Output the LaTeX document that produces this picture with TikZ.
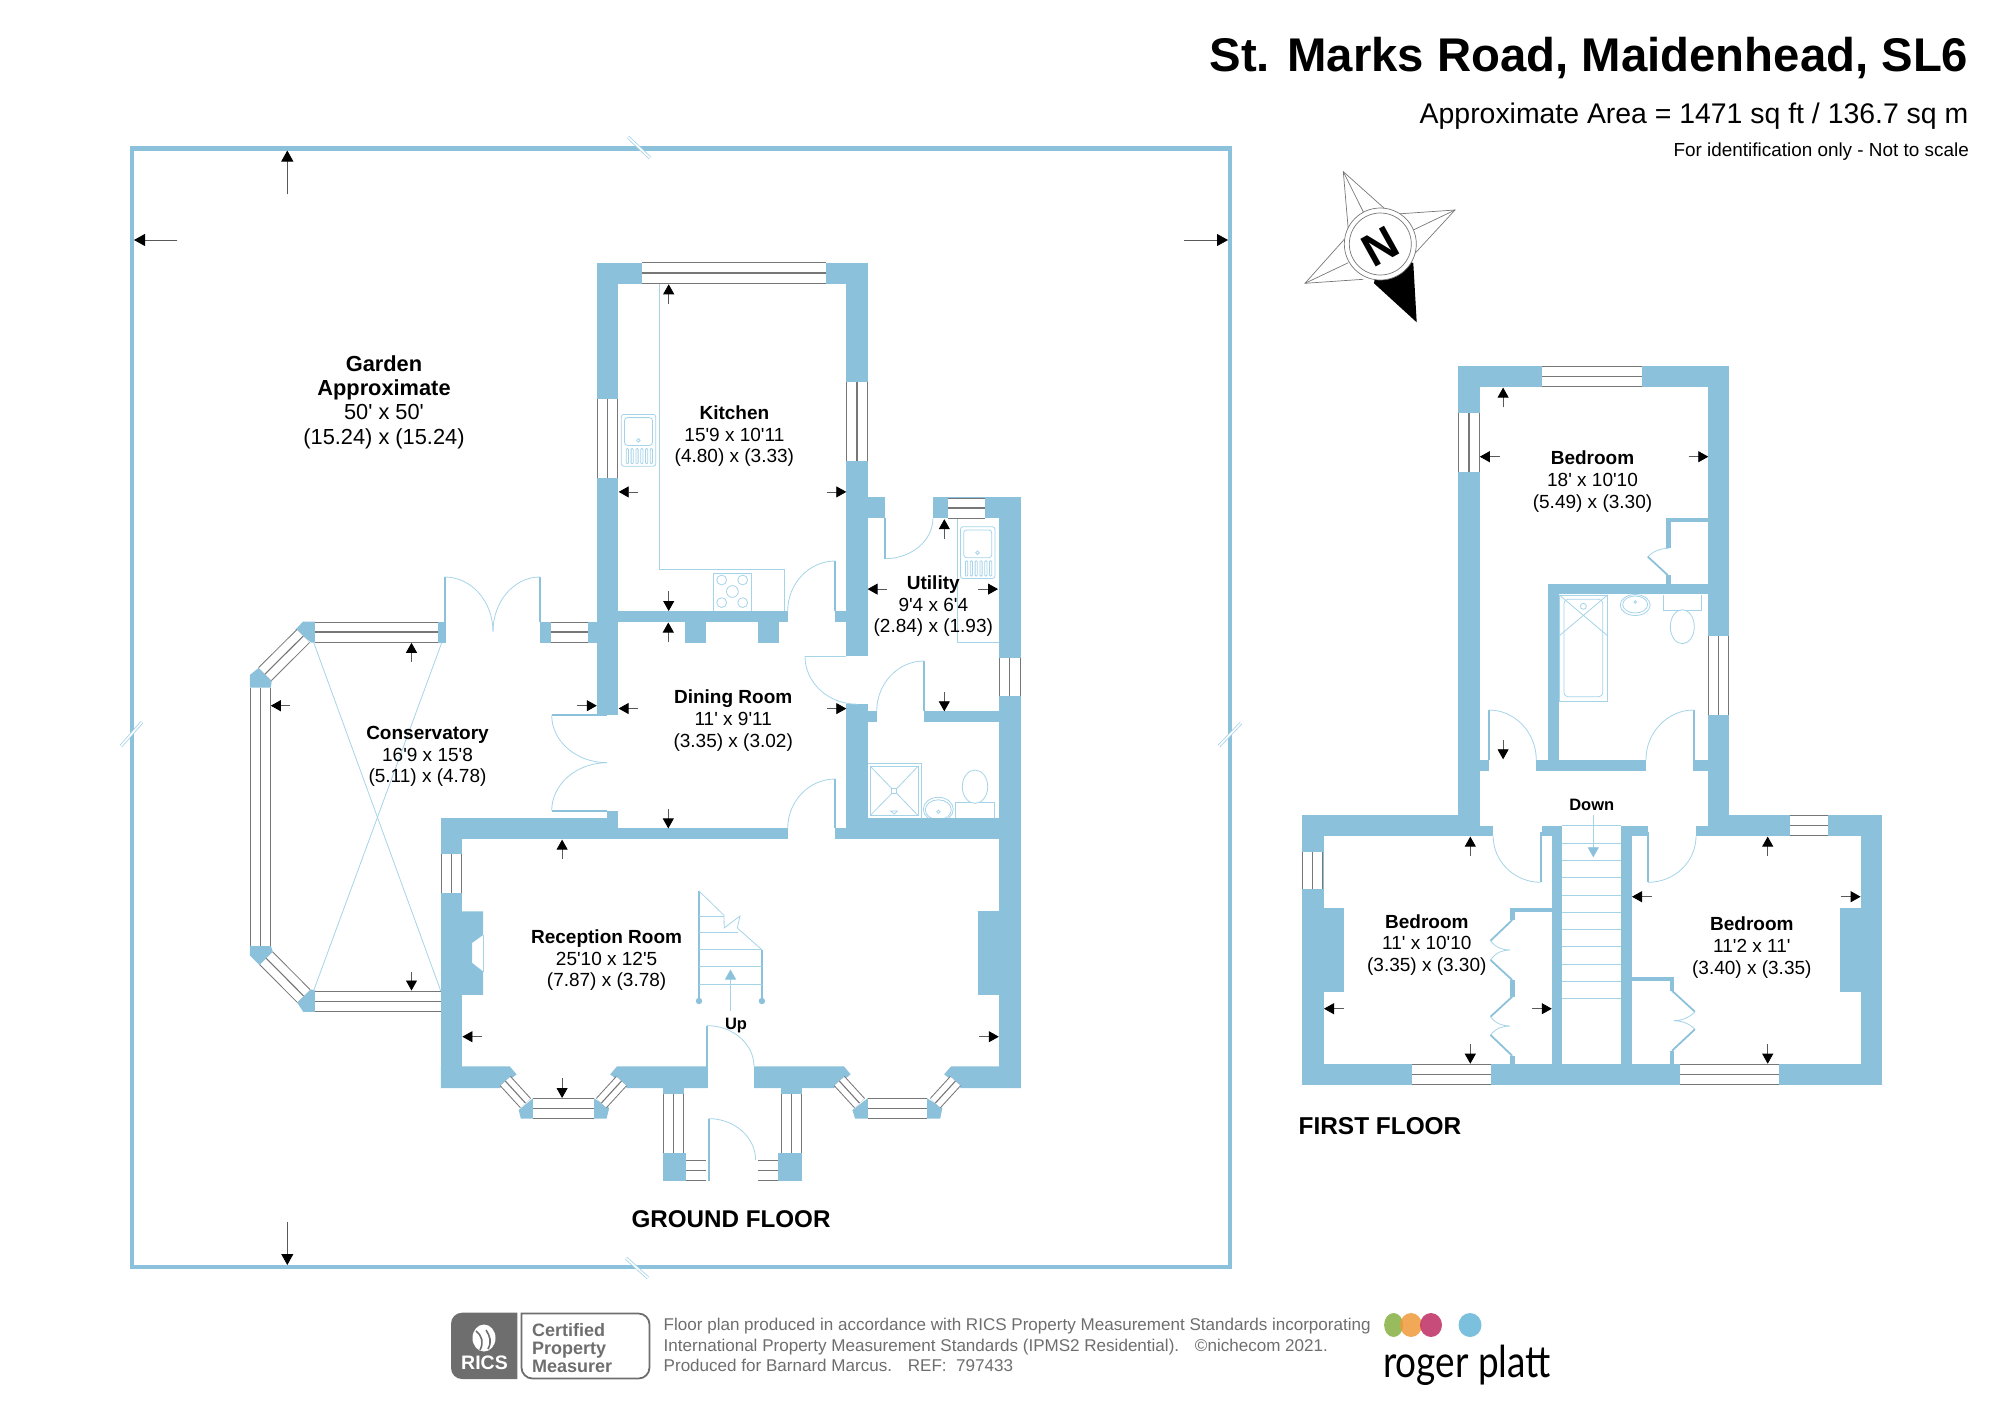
\documentclass[tikz,border=0pt]{standalone}
\usepackage{fontspec}
\usepackage{tikz}
\usetikzlibrary{arrows.meta,calc}
\setmainfont{Liberation Sans}[Ligatures=TeXOff]
\newfontfamily\logofont{Lato}[Ligatures=TeXOff]
\definecolor{wallblue}{HTML}{8CC1DC}
\definecolor{fitblue}{HTML}{A5D3E8}
\definecolor{wingrey}{HTML}{777777}
\definecolor{footgrey}{HTML}{6E6E6E}
\definecolor{logogreen}{HTML}{8DB54B}
\definecolor{logoorange}{HTML}{EE9A3A}
\definecolor{logored}{HTML}{C2386A}
\definecolor{logoblue}{HTML}{7BC0DC}
\tikzset{
    wall/.style = {fill=wallblue},
    fit/.style = {draw=fitblue, line width=.8pt},
    leaf/.style = {draw=wallblue, line width=1.8pt},
    pane/.style = {draw=wingrey, line width=1pt, double=white, double distance=#1,
        postaction={draw=wingrey, double=none, line width=1.1pt}},
    dimarrow/.style = {-{Triangle[length=10pt,width=11pt,color=black]}, draw=black!65, line width=.8pt},
    gardenarrow/.style = {-{Triangle[length=11pt,width=12pt,color=black]}, draw=black!65, line width=.8pt},
    stairarrow/.style = {-{Triangle[length=10pt,width=11pt,color=wallblue]}, fit},
    breakmark/.style = {draw=fitblue, line width=.8pt, double=white, double distance=1.6pt},
    room/.style = {align=center, inner sep=0pt, font=\fontsize{19}{21.7}\selectfont},
    sinkunit/.pic = {
        \draw[fit, rounded corners=2.5pt] (0,0) rectangle (34.4,51.8);
        \draw[fit, rounded corners=3pt] (3.2,3.2) rectangle (31.2,31);
        \draw[fit] (17,26) circle[radius=1.8pt];
        \draw[fit, rounded corners=1pt] (5,34) rectangle (7.2,49.4);
        \draw[fit, rounded corners=1pt] (9.8,34) rectangle (12,49.4);
        \draw[fit, rounded corners=1pt] (14.6,34) rectangle (16.8,49.4);
        \draw[fit, rounded corners=1pt] (19.4,34) rectangle (21.6,49.4);
        \draw[fit, rounded corners=1pt] (24.2,34) rectangle (26.4,49.4);
        \draw[fit, rounded corners=1pt] (29,34) rectangle (31.2,49.4);
    }
}
% quarter swing of a door, leaf upright or level
\newcommand{\swingup}[4]{\draw[fit] (#1,#2) .. controls ($(#1,#2)!.55!(#3,#2)$) and ($(#3,#4)!.55!(#3,#2)$) .. (#3,#4);}
\newcommand{\swinglevel}[4]{\draw[fit] (#1,#2) .. controls ($(#1,#2)!.55!(#1,#4)$) and ($(#3,#4)!.55!(#1,#4)$) .. (#3,#4);}
\begin{document}
\begin{tikzpicture}[x=1pt,y=-1pt]
    \useasboundingbox (0,0) rectangle (2000,1414);

    % garden
    \draw[wallblue, line width=4.4pt] (132,148.5) rectangle (1230,1267);
    \draw[breakmark] (628,137) -- (650,158);
    \draw[breakmark] (626,1258) -- (648,1278);
    \draw[breakmark] (121,746) -- (142,722);
    \draw[breakmark] (1219,746) -- (1241,723);
    \draw[gardenarrow] (287.3,194.3) -- (287.3,150.5);
    \draw[gardenarrow] (287.3,1222) -- (287.3,1265);
    \draw[gardenarrow] (177.3,240) -- (134,240);
    \draw[gardenarrow] (1183.6,240) -- (1228,240);

    % fittings of the ground floor
    \draw[fit] (659.2,283.5) -- (659.2,569.4) -- (784.2,569.4) -- (784.2,611);
    \draw[fit] (713,611) -- (713,573.3) -- (751.4,573.3) -- (751.4,611);
    \draw[fit] (721.7,580) circle[radius=4.9pt];
    \draw[fit] (742.7,580) circle[radius=4.9pt];
    \draw[fit] (732.4,591.5) circle[radius=5.9pt];
    \draw[fit] (721.7,602.6) circle[radius=4.9pt];
    \draw[fit] (742.7,602.6) circle[radius=4.9pt];
    \pic at (621.3,414.4) {sinkunit};
    \pic at (960.5,526.7) {sinkunit};
    \draw[fit] (957.4,518.4) -- (957.4,642.5) -- (998.9,642.5);
    \draw[fit] (867.3,763.3) rectangle (921.7,818.3);
    \draw[fit] (870,766) rectangle (918.3,815.7);
    \draw[fit] (870,766) -- (891.8,788.5);
    \draw[fit] (918.3,766) -- (896.8,788.5);
    \draw[fit] (870,815.7) -- (891.8,793.5);
    \draw[fit] (918.3,815.7) -- (896.8,793.5);
    \draw[fit] (891.8,788.5) rectangle (896.8,793.5);
    \draw[fit] (890.7,811) -- (897.3,811) -- (894.3,814) -- cycle;
    \draw[fit] (938.3,809.3) ellipse[x radius=15pt, y radius=12pt];
    \draw[fit] (938.3,809.8) ellipse[x radius=13pt, y radius=10pt];
    \draw[fit] (938.3,811.7) circle[radius=1.7pt];
    \draw[fit] (955.7,818) -- (955.7,802.3) -- (994,802.3) -- (994,818);
    \draw[fit, fill=white] (975,786.7) ellipse[x radius=12.7pt, y radius=16.7pt];

    % stairs up
    \draw[leaf] (699,891) -- (699,1001);
    \draw[leaf] (761.9,949.7) -- (761.9,1001);
    \fill[wallblue] (699,1001) circle[radius=3.2pt];
    \fill[wallblue] (761.9,1001) circle[radius=3.2pt];
    \draw[fit] (699,891) -- (724,915.3) -- (724.2,928) -- (740,916) -- (737.3,928) -- (761.9,949.7);
    \draw[fit] (699,916.1) -- (724,916.1);
    \draw[fit] (699,932) -- (738,932);
    \draw[fit] (699,949.7) -- (761.9,949.7);
    \draw[fit] (699,966.7) -- (761.9,966.7);
    \draw[fit] (699,984.1) -- (761.9,984.1);
    \draw[stairarrow] (730.5,1011) -- (730.5,969.5);

    % walls of the ground floor
    \fill[wall] (596.8,262.5) rectangle (867.6,283.5);
    \fill[wall] (596.8,262.5) rectangle (618.1,714.5);
    \fill[wall] (846.3,262.5) rectangle (867.6,656.4);
    \fill[wall] (618.1,611) rectangle (787.7,622);
    \fill[wall] (685,622) rectangle (706.3,642.5);
    \fill[wall] (758,622) rectangle (779.4,642.5);
    \fill[wall] (835.2,611) rectangle (846.3,622);
    \fill[wall] (867.6,497.4) rectangle (885,518.4);
    \fill[wall] (932.9,497.4) rectangle (1020.8,518.4);
    \fill[wall] (998.9,497.4) rectangle (1020.8,1088);
    \fill[wall] (846.3,704.2) rectangle (867.6,839);
    \fill[wall] (867.6,711.3) rectangle (876.7,721.6);
    \fill[wall] (923.8,711.3) rectangle (998.9,721.6);
    \fill[wall] (846.3,818) rectangle (998.9,839);
    \fill[wall] (835.2,828.4) rectangle (846.3,839);
    \fill[wall] (440.8,818.4) rectangle (618.1,839);
    \fill[wall] (607,810.6) rectangle (618.1,839);
    \fill[wall] (618.1,828.4) rectangle (787.7,839);
    \fill[wall] (440.8,818.4) rectangle (462.2,1088);
    \fill[wall] (462.2,911.4) -- (483.1,911.4) -- (483.1,935) -- (472,943) -- (472,962.8) -- (483.1,971.5) -- (483.1,994.8) -- (462.2,994.8) -- cycle;
    \draw[fit] (483.1,935) -- (483.1,971.5);
    \fill[wall] (977.9,911.4) rectangle (998.9,994.8);
    \fill[wall] (440.8,1088) -- (499.9,1088) -- (516.6,1074.3) -- (509.8,1066.4) -- (440.8,1066.4) -- cycle;
    \fill[wall] (707,1088) -- (627,1088) -- (610.2,1074.3) -- (617,1066.4) -- (707,1066.4) -- cycle;
    \fill[wall] (754,1066.4) -- (844,1066.4) -- (850.6,1074.3) -- (834,1088) -- (754,1088) -- cycle;
    \fill[wall] (951,1066.4) -- (944.2,1074.3) -- (961,1088) -- (1020.8,1088) -- (1020.8,1066.4) -- cycle;
    \fill[wall] (533.3,1098) -- (518.7,1110) -- (520.8,1118.6) -- (533.3,1118.6) -- cycle;
    \fill[wall] (593.5,1098) -- (609.2,1108) -- (606.6,1118.6) -- (593.5,1118.6) -- cycle;
    \fill[wall] (868,1098) -- (852.4,1110) -- (855,1118.6) -- (868,1118.6) -- cycle;
    \fill[wall] (926.7,1098) -- (942.4,1108) -- (940.2,1118.6) -- (926.7,1118.6) -- cycle;
    \fill[wall] (663,1088) rectangle (684,1094);
    \fill[wall] (780.7,1088) rectangle (801.7,1094);
    \fill[wall] (663,1153.4) rectangle (686,1181);
    \fill[wall] (777.6,1153.4) rectangle (801.7,1181);
    \fill[wall] (588.4,621.6) rectangle (596.8,642.5);
    \fill[wall] (539.8,621.6) rectangle (550.5,642.5);
    \fill[wall] (437.6,621.6) rectangle (445.5,642.5);
    \fill[wall] (315.3,621.5) -- (303.2,621.5) -- (295.4,629.4) -- (311,642.5) -- (315.3,642.5) -- cycle;
    \fill[wall] (258.8,667.8) -- (249.9,674.9) -- (249.9,687.6) -- (270.8,687.6) -- (271.8,680.8) -- cycle;
    \fill[wall] (249.9,945.8) -- (270.8,945.8) -- (272.9,951.7) -- (259.8,965.5) -- (249.9,955.6) -- cycle;
    \fill[wall] (311,989.3) -- (315.3,990.5) -- (315.3,1011.8) -- (303.2,1011.8) -- (297,1002.3) -- cycle;

    % windows of the ground floor
    \draw[pane=19.2pt] (641.8,273) -- (826,273);
    \draw[pane=19.4pt] (607.4,399.4) -- (607.4,478.4);
    \draw[pane=19.4pt] (857,381.6) -- (857,461);
    \draw[pane=19pt] (947.5,508) -- (985.4,508);
    \draw[pane=19.4pt] (1009.8,658) -- (1009.8,696);
    \draw[pane=19pt] (550.5,632) -- (588.4,632);
    \draw[pane=19pt] (315.3,632) -- (437.6,632);
    \draw[pane=17pt] (303.2,636.1) -- (265,674.1);
    \draw[pane=19pt] (260.4,687.6) -- (260.4,945.8);
    \draw[pane=17pt] (266.3,958.4) -- (303.7,996);
    \draw[pane=19pt] (315.3,1001.2) -- (440.8,1001.2);
    \draw[pane=19.4pt] (451.5,854) -- (451.5,892.8);
    \draw[pane=19pt] (533.3,1108.3) -- (593.5,1108.3);
    \draw[pane=12.6pt] (505.4,1081.1) -- (525.5,1103.1);
    \draw[pane=12.6pt] (621.4,1081.1) -- (601.3,1103.1);
    \draw[pane=19pt] (868,1108.3) -- (926.7,1108.3);
    \draw[pane=12.6pt] (839.4,1081.1) -- (859.5,1103.1);
    \draw[pane=12.6pt] (955.4,1081.1) -- (935.3,1103.1);
    \draw[pane=19pt] (673.5,1094) -- (673.5,1153.4);
    \draw[pane=19pt] (791.2,1094) -- (791.2,1153.4);
    \draw[pane=19pt] (686,1170.5) -- (706,1170.5);
    \draw[pane=19pt] (758,1170.5) -- (777.6,1170.5);

    % conservatory roof
    \draw[fit] (313.7,642.5) -- (440.8,991);
    \draw[fit] (441.8,642.5) -- (313.7,990.5);

    % doors of the ground floor
    \draw[leaf] (885,518.4) -- (885,558.7);
    \swingup{885}{558.7}{932.9}{518.4}
    \draw[leaf] (835.2,561) -- (835.2,611);
    \swingup{835.2}{561}{787.7}{611}
    \draw[fit] (805,656.4) -- (846.3,656.4);
    \swinglevel{805}{656.4}{857}{704.2}
    \draw[leaf] (923.8,661) -- (923.8,711.3);
    \swingup{923.8}{661}{876.7}{711.3}
    \draw[leaf] (835.2,779) -- (835.2,828.4);
    \swingup{835.2}{779}{787.7}{828.4}
    \draw[leaf] (551.7,715.3) -- (607,715.3);
    \swinglevel{551.7}{715.3}{607}{762.7}
    \draw[leaf] (551.7,810.6) -- (607,810.6);
    \swinglevel{551.7}{810.6}{607}{762.7}
    \draw[leaf] (444.9,577) -- (444.9,622);
    \swingup{444.9}{577}{493}{631.5}
    \draw[leaf] (539.8,577) -- (539.8,622);
    \swingup{539.8}{577}{493}{631.5}
    \draw[leaf] (707,1025.6) -- (707,1088);
    \swingup{707}{1025.6}{754}{1066.4}
    \draw[leaf] (708.6,1118.6) -- (708.6,1181);
    \swingup{708.6}{1118.6}{755.6}{1160}

    % dimension arrows of the ground floor
    \draw[dimarrow] (668.7,304) -- (668.7,284.3);
    \draw[dimarrow] (668.7,591) -- (668.7,611);
    \draw[dimarrow] (638.3,491.9) -- (618.7,491.9);
    \draw[dimarrow] (826.5,491.9) -- (846.3,491.9);
    \draw[dimarrow] (668.3,642.1) -- (668.3,622.5);
    \draw[dimarrow] (668.3,808.6) -- (668.3,828.4);
    \draw[dimarrow] (638,708.5) -- (618.6,708.5);
    \draw[dimarrow] (827.3,708.6) -- (846.3,708.6);
    \draw[dimarrow] (887,589.1) -- (867.6,589.1);
    \draw[dimarrow] (978.3,589.1) -- (998,589.1);
    \draw[dimarrow] (944.3,538.9) -- (944.3,519.2);
    \draw[dimarrow] (944.3,692) -- (944.3,711.3);
    \draw[dimarrow] (411.5,661.9) -- (411.5,642.8);
    \draw[dimarrow] (411.5,971.5) -- (411.5,990.5);
    \draw[dimarrow] (290,705.7) -- (270.8,705.7);
    \draw[dimarrow] (577.3,705.7) -- (596.8,705.7);
    \draw[dimarrow] (562.1,859.2) -- (562.1,839.6);
    \draw[dimarrow] (562.1,1078.2) -- (562.1,1098);
    \draw[dimarrow] (482.1,1036.7) -- (462.4,1036.7);
    \draw[dimarrow] (979,1036.7) -- (998.8,1036.7);

    % fittings of the first floor
    \draw[fit] (1559.3,595) rectangle (1607.5,701.3);
    \draw[fit, rounded corners=4pt] (1564,599.3) rectangle (1602.8,696.7);
    \draw[fit] (1583.4,606.3) circle[radius=3pt];
    \draw[fit] (1559.3,595) -- (1607.5,635.7);
    \draw[fit] (1607.5,595) -- (1559.3,635.7);
    \draw[fit] (1635.2,605) ellipse[x radius=15pt, y radius=10.5pt];
    \draw[fit] (1635.2,604.5) ellipse[x radius=12.5pt, y radius=8.5pt];
    \draw[fit] (1635.2,602) circle[radius=1.3pt];
    \draw[fit] (1662.9,595) -- (1662.9,610) -- (1701.6,610) -- (1701.6,595);
    \draw[fit, fill=white] (1682.3,626.7) ellipse[x radius=12pt, y radius=17pt];

    % stairs down
    \draw[fit] (1562.4,843) -- (1621,843);
    \draw[fit] (1562.4,860.3) -- (1621,860.3);
    \draw[fit] (1562.4,877.6) -- (1621,877.6);
    \draw[fit] (1562.4,894.9) -- (1621,894.9);
    \draw[fit] (1562.4,912.2) -- (1621,912.2);
    \draw[fit] (1562.4,929.5) -- (1621,929.5);
    \draw[fit] (1562.4,946.8) -- (1621,946.8);
    \draw[fit] (1562.4,964.1) -- (1621,964.1);
    \draw[fit] (1562.4,981.4) -- (1621,981.4);
    \draw[fit] (1562.4,998.7) -- (1621,998.7);
    \draw[fit] (1562.4,825.7) -- (1621,825.7);
    \draw[stairarrow] (1593.3,815) -- (1593.3,857.3);

    % walls of the first floor
    \fill[wall] (1458.4,366) rectangle (1729.3,387.3);
    \fill[wall] (1458.4,366) rectangle (1479.8,836.3);
    \fill[wall] (1708.3,366) rectangle (1729.3,836.3);
    \fill[wall] (1301.9,815) rectangle (1479.8,836.3);
    \fill[wall] (1479.8,825.7) rectangle (1493.2,836.3);
    \fill[wall] (1696,825.7) rectangle (1708.3,836.3);
    \fill[wall] (1708.3,815) rectangle (1881.9,836.3);
    \fill[wall] (1301.9,815) rectangle (1323.6,1085);
    \fill[wall] (1860.6,815) rectangle (1881.9,1085);
    \fill[wall] (1301.9,1063.7) rectangle (1881.9,1085);
    \fill[wall] (1323.6,908.3) rectangle (1344.2,991.7);
    \fill[wall] (1839.6,908.3) rectangle (1860.6,991.7);
    \fill[wall] (1541.5,825.7) rectangle (1562.4,836.3);
    \fill[wall] (1552.2,825.7) rectangle (1562.4,1063.7);
    \fill[wall] (1621,825.7) rectangle (1647.8,836.3);
    \fill[wall] (1621,825.7) rectangle (1631.6,1063.7);
    \fill[wall] (1548.2,584) rectangle (1708.3,594.3);
    \fill[wall] (1548.2,584) rectangle (1559.3,770);
    \fill[wall] (1536.3,760) rectangle (1645.9,770.7);
    \fill[wall] (1693.3,760) rectangle (1708.3,770.7);
    \fill[wall] (1479.8,760) rectangle (1488.9,770.7);
    \fill[wall] (1666.4,518.3) rectangle (1708.3,522.3);
    \fill[wall] (1666.4,518.3) rectangle (1670.8,548.3);
    \fill[wall] (1666.4,575) rectangle (1670.8,584);
    \fill[wall] (1510.2,908.3) rectangle (1552.2,912.3);
    \fill[wall] (1510.2,908.3) rectangle (1514.6,920);
    \fill[wall] (1510.2,980) rectangle (1514.6,996.7);
    \fill[wall] (1510.2,1055.7) rectangle (1514.6,1063.7);
    \fill[wall] (1631.6,977.3) rectangle (1673.6,981.3);
    \fill[wall] (1670.4,977.3) rectangle (1673.6,990.7);
    \fill[wall] (1670.4,1050.7) rectangle (1673.6,1063.7);

    % windows of the first floor
    \draw[pane=19.2pt] (1541.9,376.6) -- (1642.3,376.6);
    \draw[pane=19.2pt] (1469,413.3) -- (1469,471.7);
    \draw[pane=19.2pt] (1718.8,636) -- (1718.8,715);
    \draw[pane=19.4pt] (1312.7,851.7) -- (1312.7,889.3);
    \draw[pane=19.4pt] (1809,825.6) -- (1827.8,825.6);
    \draw[pane=19.4pt] (1790.2,825.6) -- (1809,825.6);
    \draw[pane=19.4pt] (1411.8,1074.3) -- (1490.9,1074.3);
    \draw[pane=19.4pt] (1679.5,1074.3) -- (1779.1,1074.3);

    % doors and wardrobes of the first floor
    \draw[leaf] (1488.9,710) -- (1488.9,760);
    \swingup{1488.9}{710}{1536.3}{760}
    \draw[leaf] (1693.7,710) -- (1693.7,760);
    \swingup{1693.7}{710}{1645.9}{760}
    \draw[leaf] (1540.7,831.7) -- (1540.7,882.3);
    \swingup{1540.7}{882.3}{1493.2}{836.3}
    \draw[leaf] (1648.2,831.7) -- (1648.2,882.3);
    \swingup{1648.2}{882.3}{1696}{836.3}
    \draw[fit] (1668.6,548.3) .. controls (1660,548.3) and (1652,552) .. (1647.8,556.7);
    \draw[leaf] (1647.8,556.7) -- (1667.6,575);
    \draw[leaf] (1512.2,920) -- (1490.5,940.7);
    \draw[fit] (1490.5,940.7) .. controls (1496,948) and (1503,950) .. (1510.2,950) .. controls (1503,950) and (1496,952) .. (1490.5,960);
    \draw[leaf] (1490.5,960) -- (1512.2,980);
    \draw[leaf] (1512.2,996.7) -- (1490.5,1016.7);
    \draw[fit] (1490.5,1016.7) .. controls (1496,1024) and (1503,1026) .. (1510.2,1026) .. controls (1503,1026) and (1496,1028) .. (1490.5,1035);
    \draw[leaf] (1490.5,1035) -- (1512.2,1055.7);
    \draw[leaf] (1672,990.7) -- (1694.9,1011.7);
    \draw[fit] (1694.9,1011.7) .. controls (1689,1018) and (1681,1020.7) .. (1673.6,1020.7) .. controls (1681,1020.7) and (1689,1023) .. (1694.9,1029.3);
    \draw[leaf] (1694.9,1029.3) -- (1672,1050.7);

    % dimension arrows of the first floor
    \draw[dimarrow] (1503.1,407.3) -- (1503.1,387.6);
    \draw[dimarrow] (1503.1,740) -- (1503.1,759.3);
    \draw[dimarrow] (1499.6,456.7) -- (1479.8,456.7);
    \draw[dimarrow] (1688.6,456.7) -- (1708.3,456.7);
    \draw[dimarrow] (1470.3,856) -- (1470.3,836.6);
    \draw[dimarrow] (1470.3,1044) -- (1470.3,1063.7);
    \draw[dimarrow] (1343.8,1008.7) -- (1324,1008.7);
    \draw[dimarrow] (1532,1008.7) -- (1551.8,1008.7);
    \draw[dimarrow] (1767.7,856) -- (1767.7,836.6);
    \draw[dimarrow] (1767.7,1044) -- (1767.7,1063.7);
    \draw[dimarrow] (1652.2,896.7) -- (1632,896.7);
    \draw[dimarrow] (1840.8,896.7) -- (1860.6,896.7);

    % compass
    \draw[wingrey, line width=.7pt] (1348.3,230) -- (1343.3,171.7) -- (1387.3,211);
    \draw[wingrey, line width=.7pt] (1343.3,171.7) -- (1364,213.3);
    \draw[wingrey, line width=.7pt] (1396.7,214) -- (1455,210) -- (1415,253.3);
    \draw[wingrey, line width=.7pt] (1455,210) -- (1413.3,230);
    \draw[wingrey, line width=.7pt] (1344.3,239.3) -- (1305,283.3) -- (1363.3,279.3);
    \draw[wingrey, line width=.7pt] (1305,283.3) -- (1348.3,262.7);
    \fill[black] (1380.3,244) -- (1413.3,263.3) -- (1416.7,322.3) -- (1374,283.3) -- cycle;
    \draw[wingrey, line width=.7pt, fill=white] (1380.3,244) circle[radius=36pt];
    \draw[wingrey, line width=.7pt] (1380.3,244) circle[radius=31pt];
    \node[rotate=29, inner sep=0pt, font=\fontsize{46}{46}\selectfont\bfseries] (north) at (1380.3,247) {N};

    % headings
    \node[anchor=east, inner sep=0pt, font=\fontsize{47.3}{50}\selectfont\bfseries] (title) at (1968.5,58.5) {St. Marks Road, Maidenhead, SL6};
    \node[anchor=east, inner sep=0pt, font=\fontsize{28.4}{32}\selectfont] (area) at (1968.5,116) {Approximate Area = 1471 sq ft / 136.7 sq m};
    \node[anchor=east, inner sep=0pt, font=\fontsize{18.9}{22}\selectfont] (idonly) at (1969,151.5) {For identification only - Not to scale};
    \node[inner sep=0pt, font=\fontsize{24.2}{28}\selectfont\bfseries] (groundfloor) at (731,1219.5) {GROUND FLOOR};
    \node[inner sep=0pt, font=\fontsize{24.4}{28}\selectfont\bfseries] (firstfloor) at (1380,1126) {FIRST FLOOR};

    % room labels
    \node[room, font=\fontsize{21.8}{24.3}\selectfont] (garden) at (384,402) {\textbf{Garden}\\\textbf{Approximate}\\50' x 50'\\(15.24) x (15.24)};
    \node[room] (kitchen) at (734.4,436.3) {\textbf{Kitchen}\\15'9 x 10'11\\(4.80) x (3.33)};
    \node[room] (dining) at (733.2,720.4) {\textbf{Dining Room}\\11' x 9'11\\(3.35) x (3.02)};
    \node[room] (utility) at (933.3,606.3) {\textbf{Utility}\\9'4 x 6'4\\(2.84) x (1.93)};
    \node[room] (conservatory) at (427.5,756.5) {\textbf{Conservatory}\\16'9 x 15'8\\(5.11) x (4.78)};
    \node[room] (reception) at (606.6,960.1) {\textbf{Reception Room}\\25'10 x 12'5\\(7.87) x (3.78)};
    \node[room] (bedroomtop) at (1592.5,481.4) {\textbf{Bedroom}\\18' x 10'10\\(5.49) x (3.30)};
    \node[room] (bedroomleft) at (1426.8,945) {\textbf{Bedroom}\\11' x 10'10\\(3.35) x (3.30)};
    \node[room] (bedroomright) at (1751.8,947.7) {\textbf{Bedroom}\\11'2 x 11'\\(3.40) x (3.35)};
    \node[inner sep=0pt, font=\fontsize{16.5}{20}\selectfont\bfseries] (up) at (736,1026) {Up};
    \node[inner sep=0pt, font=\fontsize{16.5}{20}\selectfont\bfseries] (down) at (1591.7,805) {Down};

    % footer
    \fill[footgrey, rounded corners=11pt] (517.3,1312.7) -- (451,1312.7) -- (451,1379) [sharp corners] -- (517.3,1379) -- cycle;
    \fill[white] (484,1338) ellipse[x radius=11.5pt, y radius=13.5pt];
    \draw[footgrey, line width=1.6pt] (476,1331) .. controls (482,1336) and (484,1342) .. (480,1350);
    \draw[footgrey, line width=1.6pt] (486,1330) .. controls (490,1336) and (492,1342) .. (488,1349);
    \node[inner sep=0pt, text=white, font=\fontsize{19.5}{20}\selectfont\bfseries] (rics) at (484.5,1363) {RICS};
    \draw[footgrey, line width=1.8pt, rounded corners=11pt] (521.5,1313.5) -- (649.5,1313.5) -- (649.5,1378.5) -- (521.5,1378.5) [sharp corners] -- cycle;
    \node[anchor=west, inner sep=0pt, text=footgrey, align=left, font=\fontsize{18}{18}\selectfont\bfseries] (cert) at (531.8,1348) {Certified\\Property\\Measurer};
    \node[anchor=west, inner sep=0pt, text=footgrey, align=left, font=\fontsize{17.05}{20.8}\selectfont] (footnote) at (663.5,1345) {Floor plan produced in accordance with RICS Property Measurement Standards incorporating\\International Property Measurement Standards (IPMS2 Residential). \ \ ©nichecom 2021.\\Produced for Barnard Marcus. \ \ REF: \ 797433};
    \fill[logogreen, opacity=.9] (1393.6,1325) ellipse[x radius=9.5pt, y radius=12pt];
    \fill[logoorange, opacity=.85] (1411,1325) ellipse[x radius=11pt, y radius=12pt];
    \fill[logored, opacity=.9] (1431,1325) ellipse[x radius=11pt, y radius=12pt];
    \fill[logoblue] (1470,1325) ellipse[x radius=11.5pt, y radius=12pt];
    \node[inner sep=0pt, xscale=.84, font=\fontsize{44}{48}\selectfont\logofont] (logo) at (1467,1365) {roger platt};
\end{tikzpicture}
\end{document}
